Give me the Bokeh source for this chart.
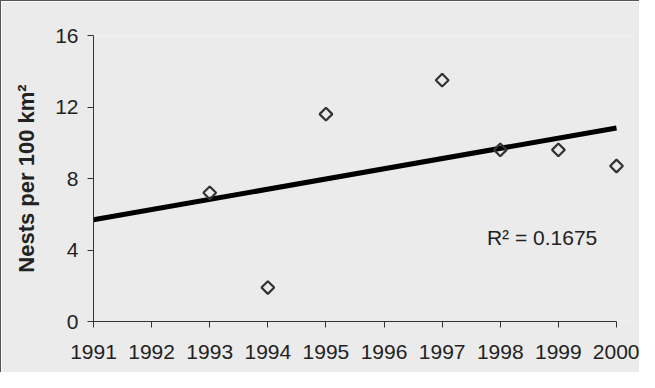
import numpy as np
from bokeh.plotting import figure
from bokeh.models import Range1d, FixedTicker, Label
from bokeh.embed import file_html
from bokeh.resources import INLINE

# ---- data ----
years = [1993, 1994, 1995, 1997, 1998, 1999, 2000]
nests = [7.2, 1.9, 11.6, 13.5, 9.6, 9.6, 8.7]
x_ticks = [1991, 1992, 1993, 1994, 1995, 1996, 1997, 1998, 1999, 2000]
y_ticks = [0, 4, 8, 12, 16]
trend_years = [1991, 2000]
r2_text = "R² = 0.1675"
y_label = "Nests per 100 km²"

# ---- layout ----
W, H = 639, 372
left, right, top, bottom = 92, 7, 34, 52
frame_w = W - left - right
px_per_year = 523 / 9.0
x_end = 1991 + frame_w / px_per_year

FONT = "Liberation Sans"
TXT = "#222222"
AX = "#333333"
BG = "#ebebeb"

p = figure(width=W, height=H, output_backend="svg", toolbar_location=None,
           x_range=Range1d(1991, x_end), y_range=Range1d(0, 16),
           min_border_left=left, min_border_right=right,
           min_border_top=top, min_border_bottom=bottom)
p.styles = {"border-left": "1px solid #555555", "border-top": "1px solid #555555"}
p.background_fill_color = BG
p.border_fill_color = BG
p.outline_line_color = None
p.grid.visible = False

# trend line (least squares on the data)
slope, intercept = np.polyfit(years, nests, 1)
trend_vals = [slope * x + intercept for x in trend_years]
p.line(trend_years, trend_vals, line_color="black", line_width=5)

p.scatter(years, nests, marker="square", size=9, angle=np.pi / 4,
          fill_color=None, line_color="#333333", line_width=2.2)

for ax in (p.xaxis[0], p.yaxis[0]):
    ax.axis_line_color = AX
    ax.major_tick_line_color = AX
    ax.major_tick_in = 0
    ax.major_tick_out = 6
    ax.minor_tick_line_color = None
    ax.major_label_text_font = FONT
    ax.major_label_text_font_size = "21px"
    ax.major_label_text_color = TXT

p.xaxis.ticker = FixedTicker(ticks=x_ticks)
p.xaxis.bounds = (1991, 2000)
p.xaxis.major_label_standoff = 17
p.yaxis.ticker = FixedTicker(ticks=y_ticks)
p.yaxis.major_label_standoff = 9
p.yaxis.axis_label = y_label
p.yaxis.axis_label_text_font = FONT
p.yaxis.axis_label_text_font_size = "22px"
p.yaxis.axis_label_text_font_style = "bold"
p.yaxis.axis_label_text_color = TXT
p.yaxis.axis_label_standoff = 13

p.add_layout(Label(x=1997.77, y=4.72, text=r2_text, text_font=FONT,
                   text_font_size="21px", text_color=TXT,
                   text_baseline="alphabetic", text_align="left"))

open("out.html", "w").write(file_html(p, INLINE))
